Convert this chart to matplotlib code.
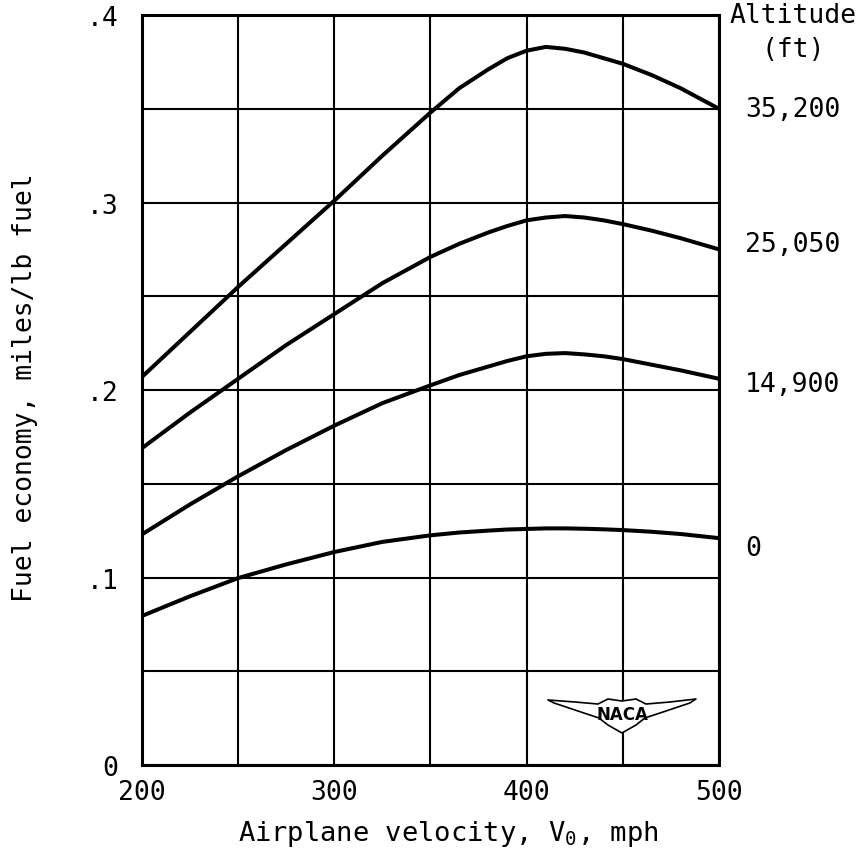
import numpy as np
import matplotlib.pyplot as plt
from matplotlib.patches import Polygon
from matplotlib.transforms import blended_transform_factory

plt.rcParams['font.family'] = ['DejaVu Sans Mono']
plt.rcParams['mathtext.fontset'] = 'custom'
plt.rcParams['mathtext.rm'] = 'DejaVu Sans Mono'

# Airplane velocity, mph
velocity = [200, 225, 250, 275, 300, 325, 350, 365, 380, 390, 400, 410,
            420, 430, 440, 450, 465, 480, 500]

# Fuel economy, miles/lb fuel, for each altitude
economy_35200 = [0.207, 0.231, 0.255, 0.278, 0.301, 0.325, 0.348, 0.361,
                 0.371, 0.377, 0.381, 0.383, 0.382, 0.380, 0.377, 0.374,
                 0.368, 0.361, 0.350]
economy_25050 = [0.169, 0.188, 0.206, 0.224, 0.2405, 0.257, 0.271, 0.278,
                 0.284, 0.2875, 0.2905, 0.292, 0.2928, 0.292, 0.2905,
                 0.2885, 0.285, 0.281, 0.275]
economy_14900 = [0.123, 0.139, 0.154, 0.168, 0.181, 0.193, 0.2025, 0.208,
                 0.2125, 0.2155, 0.218, 0.2193, 0.2197, 0.219, 0.218,
                 0.2165, 0.2135, 0.2105, 0.206]
economy_0 = [0.0795, 0.090, 0.0997, 0.107, 0.1136, 0.119, 0.1225, 0.1240,
             0.1250, 0.1256, 0.1259, 0.1262, 0.1262, 0.1260, 0.1257,
             0.1253, 0.1244, 0.1232, 0.121]

altitude_labels = ["35,200", "25,050", "14,900", "0"]
altitude_label_y = [0.350, 0.278, 0.203, 0.116]

x_major = [200, 300, 400, 500]
x_minor = [250, 350, 450]
y_major = [0, 0.1, 0.2, 0.3, 0.4]
y_major_labels = ["0", ".1", ".2", ".3", ".4"]
y_minor = [0.05, 0.15, 0.25, 0.35]

fig = plt.figure(figsize=(8.6, 8.53), dpi=100)
ax = fig.add_axes([0.1651, 0.102, 0.6709, 0.8792])

for series in [economy_35200, economy_25050, economy_14900, economy_0]:
    ax.plot(velocity, series, color='black', linewidth=2.9,
            solid_capstyle='butt', solid_joinstyle='round', zorder=3)

ax.set_xlim(200, 500)
ax.set_ylim(0, 0.4)
ax.set_xticks(x_major)
ax.set_xticks(x_minor, minor=True)
ax.set_yticks(y_major)
ax.set_yticklabels(y_major_labels)
ax.set_yticks(y_minor, minor=True)
ax.grid(True, which='both', color='black', linewidth=1.5)
ax.tick_params(which='both', length=0, labelsize=19)
ax.tick_params(axis='x', pad=10)
ax.tick_params(axis='y', pad=17)
for spine in ax.spines.values():
    spine.set_linewidth(2.2)

ax.set_xlabel(r"Airplane velocity, V$_{0}$, mph", fontsize=19.5)
ax.set_ylabel("Fuel economy, miles/lb fuel", fontsize=19)
ax.xaxis.set_label_coords(0.53, -0.071)
ax.yaxis.set_label_coords(-0.18, 0.504)

# Altitude key on the right-hand side
trans = blended_transform_factory(ax.transAxes, ax.transData)
for label, y in zip(altitude_labels, altitude_label_y):
    ax.text(1.045, y, label, transform=trans, ha='left', va='center',
            fontsize=19)
ax.text(1.128, 1.0, "Altitude", transform=ax.transAxes, ha='center',
        va='center', fontsize=19)
ax.text(1.128, 0.955, "(ft)", transform=ax.transAxes, ha='center',
        va='center', fontsize=19)

# NACA wings emblem
wing = [(0.7036, 0.0867), (0.7504, 0.0840), (0.7903, 0.0813),
        (0.8076, 0.0880), (0.8319, 0.0853), (0.8562, 0.0880),
        (0.8735, 0.0813), (0.9151, 0.0840), (0.9601, 0.0880),
        (0.9497, 0.0827), (0.9237, 0.0760), (0.8977, 0.0693),
        (0.8717, 0.0627), (0.8562, 0.0533), (0.8319, 0.0427),
        (0.8076, 0.0533), (0.7920, 0.0627), (0.7660, 0.0693),
        (0.7400, 0.0760), (0.7140, 0.0827)]
ax.add_patch(Polygon(wing, closed=True, transform=ax.transAxes,
                     facecolor='white', edgecolor='black', linewidth=1.2,
                     joinstyle='round', zorder=4))
ax.text(0.832, 0.068, "NACA", transform=ax.transAxes, ha='center',
        va='center', fontsize=12, fontweight='bold', family='DejaVu Sans',
        zorder=5)

fig.savefig("out.png", dpi=100)
